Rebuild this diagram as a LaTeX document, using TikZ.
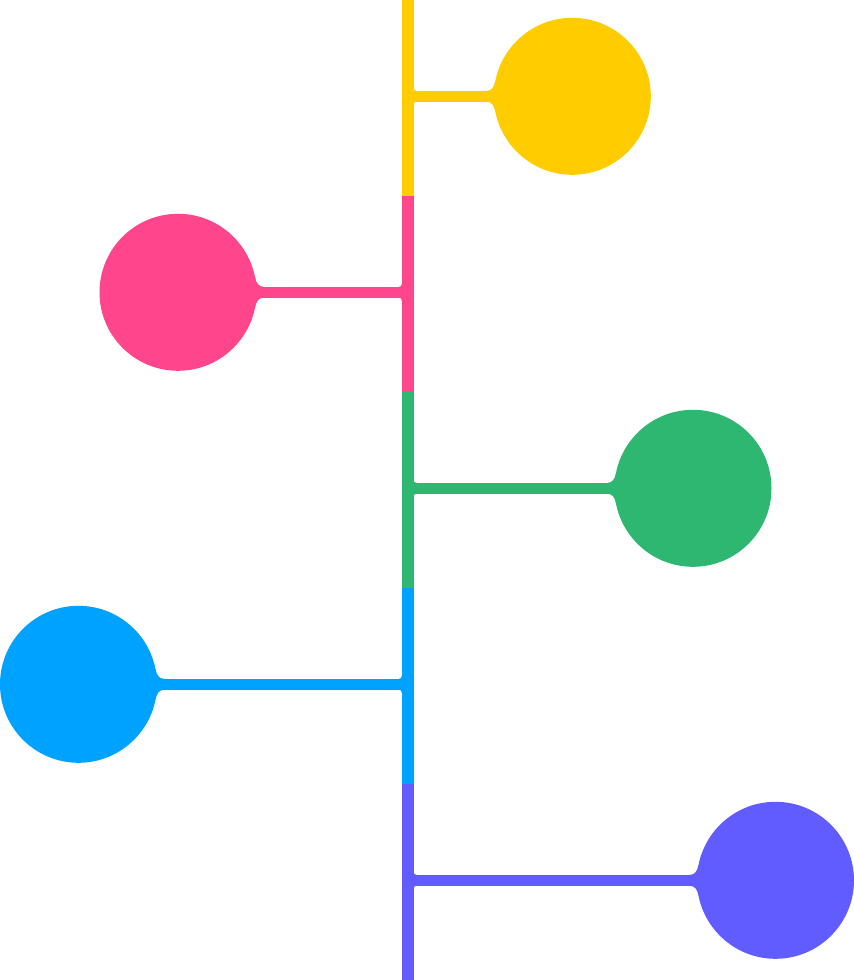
\documentclass[tikz,border=0pt]{standalone}
\usepackage{tikz}
\usetikzlibrary{positioning}
\definecolor{tlyellow}{HTML}{FFCC00}
\definecolor{tlpink}{HTML}{FF468C}
\definecolor{tlgreen}{HTML}{2DB770}
\definecolor{tlblue}{HTML}{00A2FF}
\definecolor{tlviolet}{HTML}{615CFF}
\tikzset{
    %Define style for the round heads
    bubble/.style={
           circle,
           inner sep=0pt,
           outer sep=0pt,
           minimum size=157pt},
    %Define style for the parts of the trunk
    trunk/.style={
           rectangle,
           inner sep=0pt,
           outer sep=0pt,
           minimum width=12pt,
           minimum height=196pt},
    % Define branch style
    branch/.style={
           line width=11pt}
}
\begin{document}
\begin{tikzpicture}[x=1pt,y=-1pt]
\useasboundingbox (0,0) rectangle (854,980);
\node[trunk, fill=tlyellow](t1) at (407.7,98){};
\node[trunk, fill=tlpink, below=0pt of t1](t2){};
\node[trunk, fill=tlgreen, below=0pt of t2](t3){};
\node[trunk, fill=tlblue, below=0pt of t3](t4){};
\node[trunk, fill=tlviolet, below=0pt of t4](t5){};
\node[bubble, fill=tlyellow](b1) at (572.3,96.3){};
\node[bubble, fill=tlpink](b2) at (178,292.3){};
\node[bubble, fill=tlgreen](b3) at (693,488.3){};
\node[bubble, fill=tlblue](b4) at (78.5,684.3){};
\node[bubble, fill=tlviolet](b5) at (775.5,880.3){};
\foreach \bub/\seg/\col/\bubside/\segside/\dir in {
    b1/t1/tlyellow/west/east/1,
    b2/t2/tlpink/east/west/-1,
    b3/t3/tlgreen/west/east/1,
    b4/t4/tlblue/east/west/-1,
    b5/t5/tlviolet/west/east/1}{
  \coordinate (j\bub) at (\seg.\segside |- \bub.center);
  \draw[branch, draw=\col] (j\bub) -- (\bub.\bubside);
  % flares at the head
  \fill[\col, shift={(\bub.\bubside)}, xscale=\dir]
    (-7,-5.5) .. controls (-2.5,-5.5) and (0.3,-9) .. (1.45,-15)
    -- (14,-15) -- (14,15) -- (1.45,15)
    .. controls (0.3,9) and (-2.5,5.5) .. (-7,5.5) -- cycle;
  % small flares at the trunk
  \fill[\col, shift={(j\bub)}, xscale=\dir]
    (-1,-8.5) -- (0,-8.5) .. controls (0,-6.3) and (0.8,-5.5) .. (3,-5.5)
    -- (3,5.5) .. controls (0.8,5.5) and (0,6.3) .. (0,8.5) -- (-1,8.5) -- cycle;
}
\end{tikzpicture}
\end{document}
